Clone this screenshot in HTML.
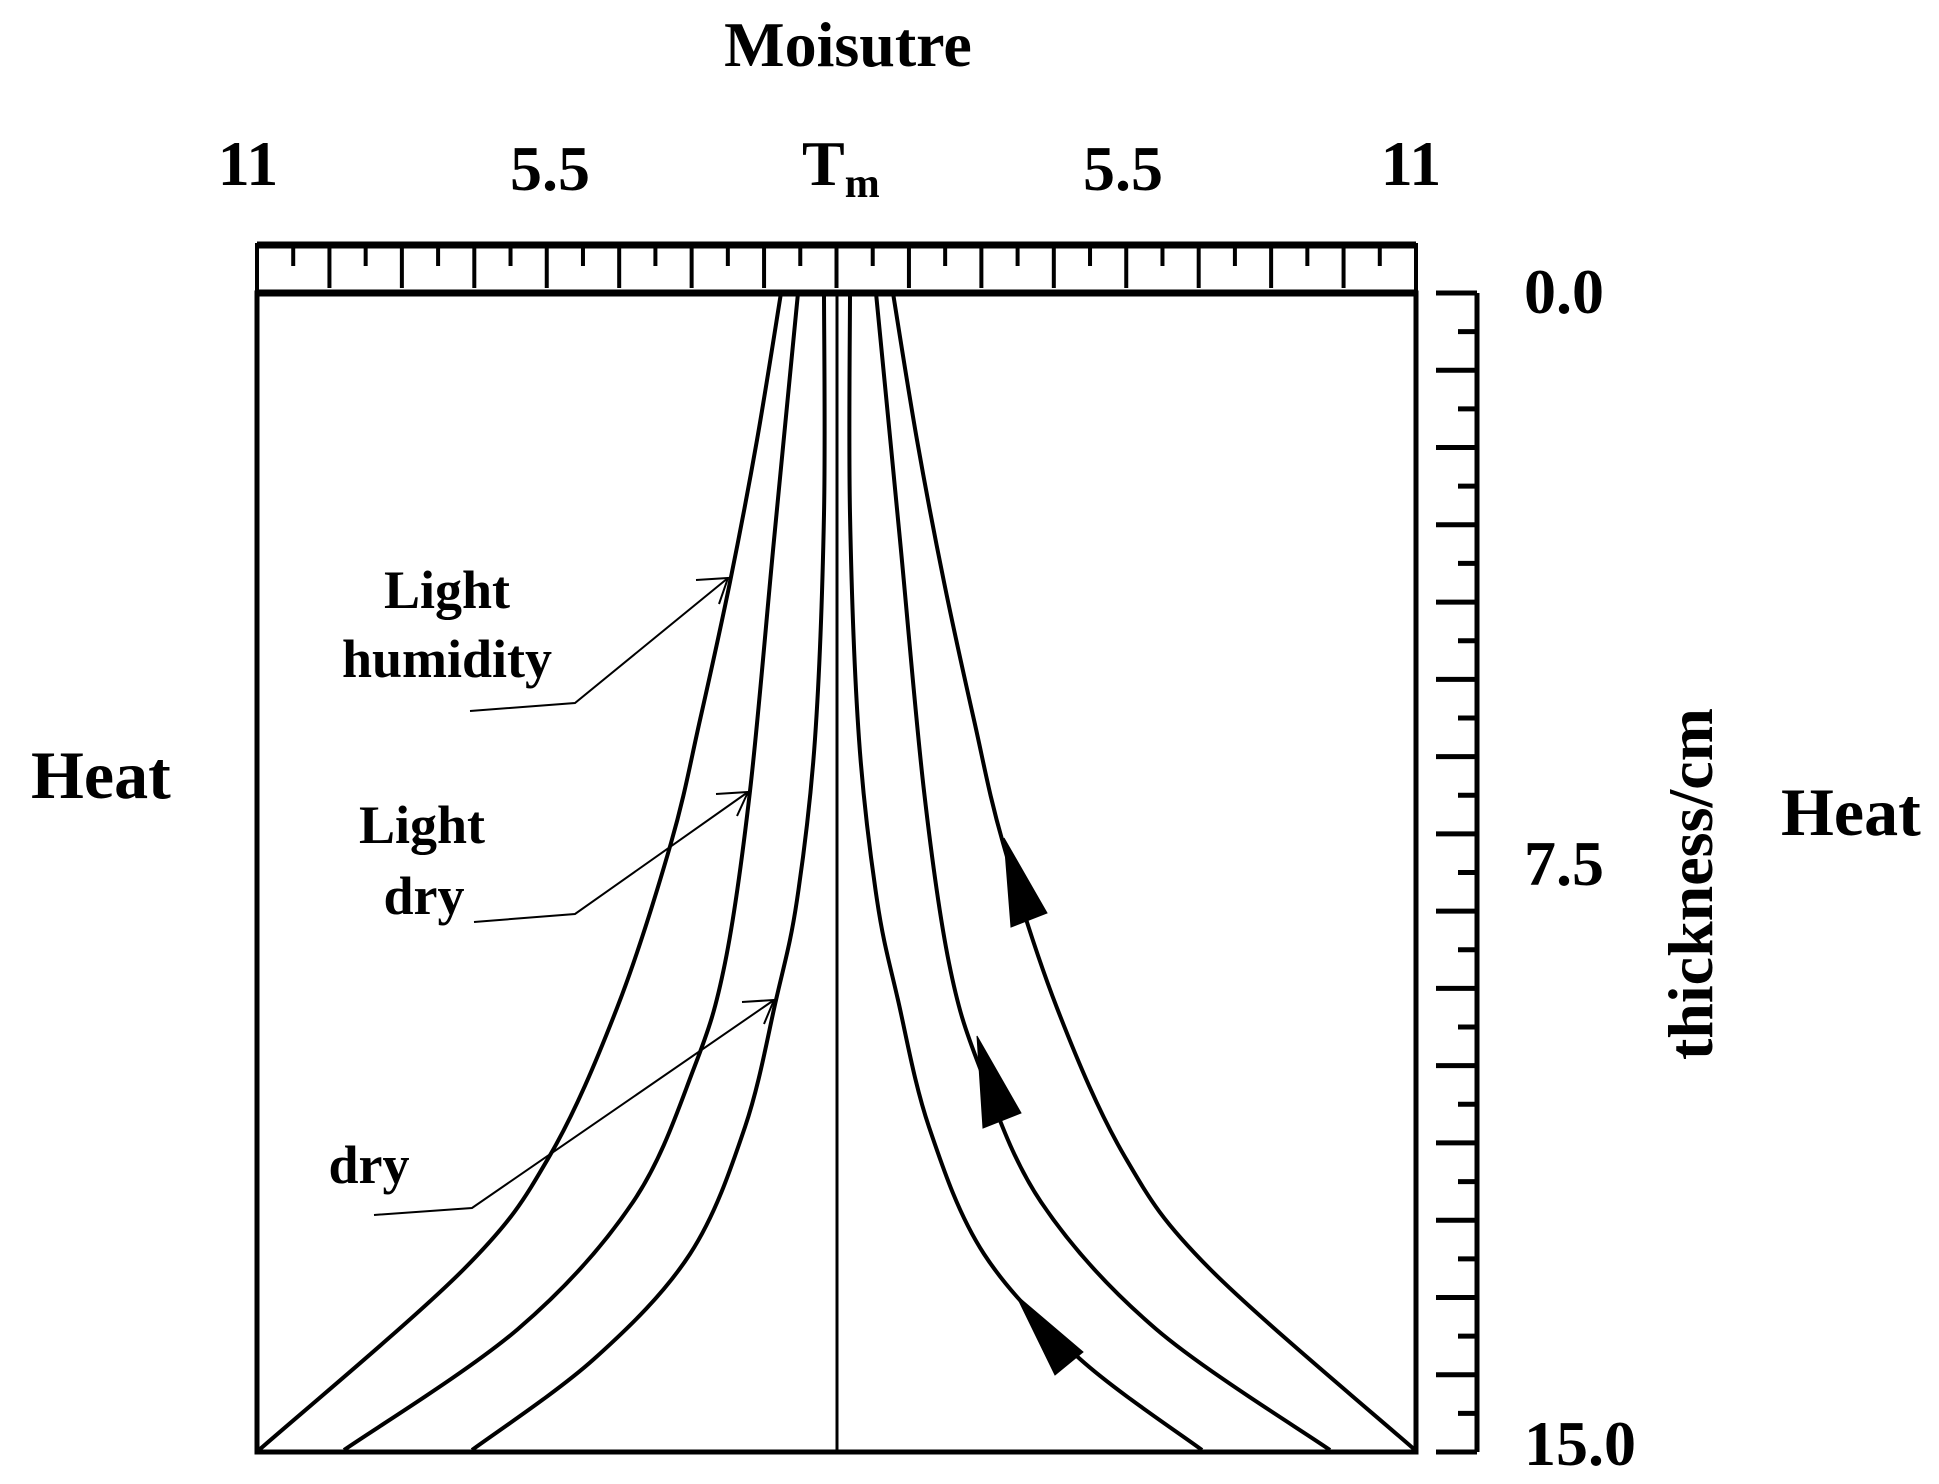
<!DOCTYPE html>
<html><head><meta charset="utf-8"><style>
html,body{margin:0;padding:0;background:#fff;}
svg{display:block;}
text{font-family:"Liberation Serif",serif;font-weight:bold;fill:#000;}
</style></head><body>
<svg id="s" width="1939" height="1484" viewBox="0 0 1939 1484" xmlns="http://www.w3.org/2000/svg">
<g id="g" fill="none" stroke="#000" stroke-width="4"></g>
<text x="848" y="66" font-size="64" text-anchor="middle">Moisutre</text>
<text x="248" y="185" font-size="64" text-anchor="middle">11</text>
<text x="550" y="190" font-size="64" text-anchor="middle">5.5</text>
<text x="802" y="185" font-size="64">T<tspan font-size="42" dy="12">m</tspan></text>
<text x="1123" y="190" font-size="64" text-anchor="middle">5.5</text>
<text x="1411" y="185" font-size="64" text-anchor="middle">11</text>
<text x="1524" y="313" font-size="64">0.0</text>
<text x="1524" y="885" font-size="64">7.5</text>
<text x="1524" y="1465" font-size="64">15.0</text>
<text x="31" y="798" font-size="68">Heat</text>
<text x="1781" y="835" font-size="68">Heat</text>
<text transform="translate(1712,884) rotate(-90)" font-size="64" text-anchor="middle">thickness/cm</text>
<text x="447" y="608" font-size="54" text-anchor="middle">Light</text>
<text x="447" y="677" font-size="54" text-anchor="middle">humidity</text>
<text x="422" y="843" font-size="54" text-anchor="middle">Light</text>
<text x="424" y="914" font-size="54" text-anchor="middle">dry</text>
<text x="369" y="1183" font-size="54" text-anchor="middle">dry</text>
</svg>
<script>
var g=document.getElementById('g'),NS='http://www.w3.org/2000/svg';
function el(t,a){var e=document.createElementNS(NS,t);for(var k in a)e.setAttribute(k,a[k]);g.appendChild(e);return e;}
function line(x1,y1,x2,y2,w){el('line',{x1:x1,y1:y1,x2:x2,y2:y2,'stroke-width':w||4});}
el('rect',{x:257,y:293,width:1159,height:1159,'stroke-width':5});
line(257,293,1416,293,7);
line(837,293,837,1452,3);
el('rect',{x:257,y:245,width:1159,height:48,'stroke-width':4});
line(257,245,1416,245,7);
var dx=1159/16;
for(var i=0;i<=16;i++){var x=257+i*dx;line(x,245,x,288,4);if(i<16)line(x+dx/2,245,x+dx/2,266,4);}
line(1477,293,1477,1452,5);
var dy=1159/15;
for(var i=0;i<=15;i++){var y=293+i*dy;line(1436,y,1477,y,5);if(i<15)line(1458,y+dy/2,1477,y+dy/2,5);}
function cr(p){var d='M'+p[0][0]+','+p[0][1];for(var i=0;i<p.length-1;i++){var p0=p[i-1]||p[i],p1=p[i],p2=p[i+1],p3=p[i+2]||p2;
d+=' C'+(p1[0]+(p2[0]-p0[0])/6)+','+(p1[1]+(p2[1]-p0[1])/6)+' '+(p2[0]-(p3[0]-p1[0])/6)+','+(p2[1]-(p3[1]-p1[1])/6)+' '+p2[0]+','+p2[1];}return d;}
var A=[[781,293],[757,440],[730,582],[700,720],[671,843],[617,1008],[549,1157],[464,1269],[259,1450]];
var B=[[798,293],[774,540],[750,791],[725,963],[694,1068],[633,1202],[518,1329],[344,1450]];
var C=[[824,293],[824,514],[815,739],[797,900],[776,1000],[745,1127],[690,1254],[594,1359],[472,1450]];
[A,B,C].forEach(function(p){el('path',{d:cr(p)});el('path',{d:cr(p.map(function(q){return[1674-q[0],q[1]];}))});});
function pl(pts){el('polyline',{points:pts,'stroke-width':2});}
pl('470,711 575,703 728,578');pl('696,580 728,578 719,604');
pl('474,922 575,914 748,792');pl('716,794 748,792 737,816');
pl('374,1215 472,1208 774,1000');pl('742,1002 774,1000 764,1024');
function tri(p){el('polygon',{points:p,fill:'#000','stroke-width':1});}
tri('1004,838 1011,927 1047,913');
tri('977,1036 983,1128 1021,1113');
tri('1016,1295 1055,1375 1083,1352');
</script>
</body></html>
